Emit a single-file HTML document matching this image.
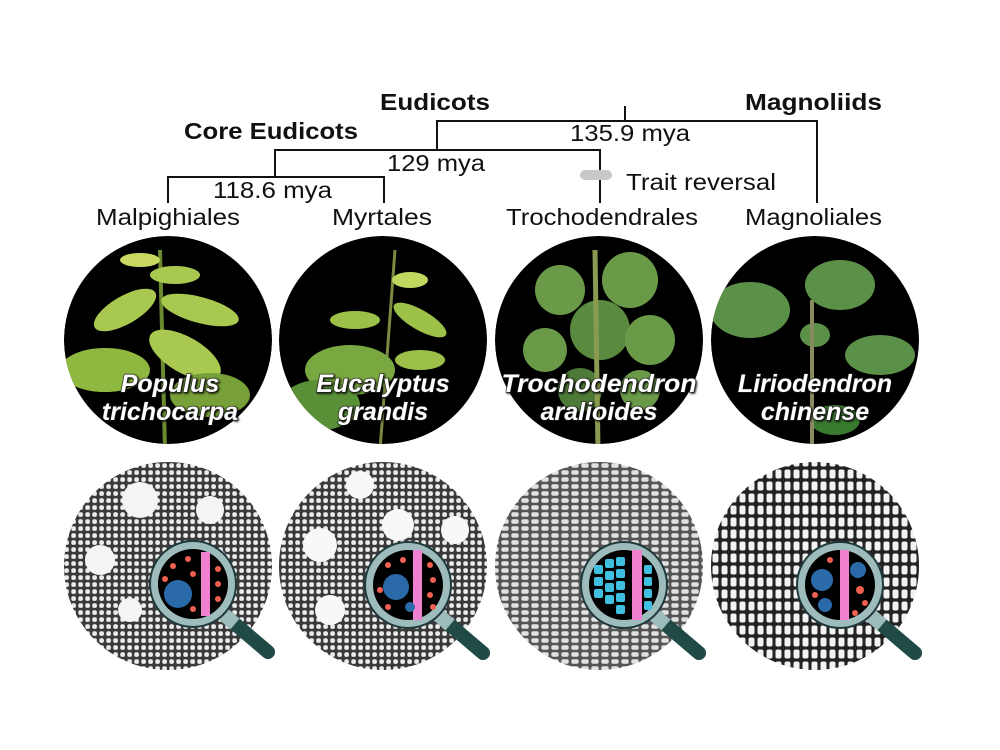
<!DOCTYPE html>
<html><head><meta charset="utf-8"><style>
html,body{margin:0;padding:0;background:#fff}
svg{display:block}
text{font-family:"Liberation Sans",Arial,sans-serif}
</style></head><body>
<svg width="1000" height="750" viewBox="0 0 1000 750" xmlns="http://www.w3.org/2000/svg">
<defs>
<pattern id="cells" width="7" height="7" patternUnits="userSpaceOnUse">
<rect width="7" height="7" fill="#3a3a3a"/><rect x="1.3" y="1.3" width="4.6" height="4.6" rx="1.8" fill="#ececec"/></pattern>
<pattern id="cells2" width="10" height="7" patternUnits="userSpaceOnUse">
<rect width="10" height="7" fill="#555"/><rect x="1.3" y="1.3" width="7.4" height="4.4" rx="1.8" fill="#e2e2e2"/></pattern>
<pattern id="cells3" width="9" height="12" patternUnits="userSpaceOnUse">
<rect width="9" height="12" fill="#222"/><rect x="1.5" y="1.5" width="6" height="9" rx="2" fill="#f2f2f2"/></pattern>
<clipPath id="c1"><circle cx="168" cy="340" r="104"/></clipPath>
<clipPath id="c2"><circle cx="383" cy="340" r="104"/></clipPath>
<clipPath id="c3"><circle cx="599" cy="340" r="104"/></clipPath>
<clipPath id="c4"><circle cx="815" cy="340" r="104"/></clipPath>
<g id="mag">
<line x1="28" y1="28" x2="75" y2="68" stroke="#1f4a45" stroke-width="14" stroke-linecap="round"/>
<line x1="28" y1="28" x2="42" y2="40" stroke="#9fbcbc" stroke-width="14"/>
<circle r="43" fill="#9fbcbc" stroke="#1f3a3a" stroke-width="2"/>
<circle r="35" fill="#000"/>
</g>
</defs>

<!-- tree -->
<g stroke="#111" stroke-width="2" fill="none">
<path d="M625 106V121M437 150V121H817V203M275 177V150H600V203M168 203V177H384V203"/>
</g>
<rect x="580" y="170" width="32" height="10" rx="5" fill="#c8c8c8"/>
<g font-size="23" fill="#111" lengthAdjust="spacingAndGlyphs">
<text x="380" y="110" textLength="110" lengthAdjust="spacingAndGlyphs" font-weight="bold">Eudicots</text>
<text x="745" y="110" textLength="137" lengthAdjust="spacingAndGlyphs" font-weight="bold">Magnoliids</text>
<text x="184" y="139" textLength="174" lengthAdjust="spacingAndGlyphs" font-weight="bold">Core Eudicots</text>
<text x="570" y="141" textLength="120" lengthAdjust="spacingAndGlyphs">135.9 mya</text>
<text x="387" y="171" textLength="98" lengthAdjust="spacingAndGlyphs">129 mya</text>
<text x="213" y="198" textLength="119" lengthAdjust="spacingAndGlyphs">118.6 mya</text>
<text x="626" y="190" textLength="150" lengthAdjust="spacingAndGlyphs">Trait reversal</text>
<text x="96" y="225" textLength="144" lengthAdjust="spacingAndGlyphs">Malpighiales</text>
<text x="332" y="225" textLength="100" lengthAdjust="spacingAndGlyphs">Myrtales</text>
<text x="506" y="225" textLength="192" lengthAdjust="spacingAndGlyphs">Trochodendrales</text>
<text x="745" y="225" textLength="137" lengthAdjust="spacingAndGlyphs">Magnoliales</text>
</g>

<!-- plant circles -->
<g clip-path="url(#c1)"><circle cx="168" cy="340" r="104" fill="#000"/>
<line x1="160" y1="250" x2="165" y2="450" stroke="#6a8a30" stroke-width="4"/>
<g fill="#a8c850"><ellipse cx="125" cy="310" rx="35" ry="14" transform="rotate(-30 125 310)"/><ellipse cx="200" cy="310" rx="40" ry="13" transform="rotate(15 200 310)"/><ellipse cx="185" cy="355" rx="40" ry="18" transform="rotate(30 185 355)"/><ellipse cx="105" cy="370" rx="45" ry="22" fill="#8fb840"/><ellipse cx="175" cy="275" rx="25" ry="9"/><ellipse cx="140" cy="260" rx="20" ry="7" fill="#c8d860"/><ellipse cx="210" cy="395" rx="40" ry="22" fill="#78a038"/></g></g>
<g clip-path="url(#c2)"><circle cx="383" cy="340" r="104" fill="#000"/>
<line x1="395" y1="250" x2="380" y2="450" stroke="#7a8a40" stroke-width="3"/>
<g fill="#9cc048"><ellipse cx="420" cy="320" rx="30" ry="10" transform="rotate(30 420 320)"/><ellipse cx="355" cy="320" rx="25" ry="9"/><ellipse cx="350" cy="370" rx="45" ry="25" fill="#7aa840"/><ellipse cx="410" cy="280" rx="18" ry="8" fill="#c0d860"/><ellipse cx="420" cy="360" rx="25" ry="10"/><ellipse cx="320" cy="405" rx="40" ry="25" fill="#5a9038"/></g></g>
<g clip-path="url(#c3)"><circle cx="599" cy="340" r="104" fill="#000"/>
<g fill="#6a9a48"><circle cx="560" cy="290" r="25"/><circle cx="630" cy="280" r="28"/><circle cx="600" cy="330" r="30" fill="#5a8a40"/><circle cx="650" cy="340" r="25"/><circle cx="545" cy="350" r="22"/><circle cx="580" cy="390" r="22" fill="#4e7a38"/><circle cx="640" cy="390" r="20"/></g>
<line x1="595" y1="250" x2="598" y2="450" stroke="#8a9a50" stroke-width="5"/></g>
<g clip-path="url(#c4)"><circle cx="815" cy="340" r="104" fill="#000"/>
<g fill="#5a9048"><ellipse cx="750" cy="310" rx="40" ry="28"/><ellipse cx="840" cy="285" rx="35" ry="25"/><ellipse cx="880" cy="355" rx="35" ry="20"/><ellipse cx="815" cy="335" rx="15" ry="12"/><ellipse cx="835" cy="420" rx="25" ry="15" fill="#3a7a30"/></g>
<line x1="812" y1="300" x2="812" y2="450" stroke="#8a8a60" stroke-width="4"/></g>

<g font-size="25" font-weight="bold" font-style="italic" fill="#fff" text-anchor="middle" stroke="#222" stroke-width="1.2" paint-order="stroke" style="filter:drop-shadow(1px 1px 1px #000)">
<text x="170" y="392">Populus</text><text x="170" y="420">trichocarpa</text>
<text x="383" y="392">Eucalyptus</text><text x="383" y="420">grandis</text>
<text x="599" y="392" textLength="195" lengthAdjust="spacingAndGlyphs">Trochodendron</text><text x="599" y="420">aralioides</text>
<text x="815" y="392">Liriodendron</text><text x="815" y="420">chinense</text>
</g>

<!-- wood circles -->
<circle cx="168" cy="566" r="104" fill="url(#cells)"/>
<g fill="#f4f4f4"><circle cx="140" cy="500" r="18"/><circle cx="210" cy="510" r="14"/><circle cx="100" cy="560" r="15"/><circle cx="130" cy="610" r="12"/><circle cx="215" cy="560" r="12"/></g>
<circle cx="383" cy="566" r="104" fill="url(#cells)"/>
<g fill="#f8f8f8"><circle cx="320" cy="545" r="17"/><circle cx="330" cy="610" r="15"/><circle cx="398" cy="525" r="16"/><circle cx="455" cy="530" r="14"/><circle cx="360" cy="485" r="14"/></g>
<circle cx="599" cy="566" r="104" fill="url(#cells2)"/>
<circle cx="815" cy="566" r="104" fill="url(#cells3)"/>

<g transform="translate(193,584)"><use href="#mag"/>
<rect x="8" y="-32" width="9" height="64" fill="#f080d0"/><circle cx="-15" cy="10" r="14" fill="#2a6aa8"/>
<g fill="#f06050"><circle cx="-20" cy="-18" r="3"/><circle cx="-5" cy="-25" r="3"/><circle cx="0" cy="-10" r="3"/><circle cx="25" cy="-15" r="3"/><circle cx="25" cy="0" r="3"/><circle cx="25" cy="15" r="3"/><circle cx="0" cy="25" r="3"/><circle cx="-28" cy="-5" r="3"/></g></g>
<g transform="translate(408,585)"><use href="#mag"/>
<rect x="5" y="-35" width="9" height="70" fill="#f080d0"/><circle cx="-12" cy="2" r="13" fill="#2a6aa8"/><circle cx="2" cy="22" r="5" fill="#2a6aa8"/>
<g fill="#f06050"><circle cx="-20" cy="-20" r="3"/><circle cx="-5" cy="-25" r="3"/><circle cx="22" cy="-20" r="3"/><circle cx="25" cy="-5" r="3"/><circle cx="22" cy="10" r="3"/><circle cx="25" cy="22" r="3"/><circle cx="-20" cy="22" r="3"/><circle cx="-28" cy="5" r="3"/></g></g>
<g transform="translate(624,585)"><use href="#mag"/>
<rect x="8" y="-35" width="10" height="70" fill="#f080d0"/>
<g fill="#40c0e0"><rect x="-30" y="-20" width="9" height="9" rx="2"/><rect x="-19" y="-26" width="9" height="9" rx="2"/><rect x="-8" y="-28" width="9" height="9" rx="2"/><rect x="-30" y="-8" width="9" height="9" rx="2"/><rect x="-19" y="-14" width="9" height="9" rx="2"/><rect x="-8" y="-16" width="9" height="9" rx="2"/><rect x="-30" y="4" width="9" height="9" rx="2"/><rect x="-19" y="-2" width="9" height="9" rx="2"/><rect x="-8" y="-4" width="9" height="9" rx="2"/><rect x="-19" y="10" width="9" height="9" rx="2"/><rect x="-8" y="8" width="9" height="9" rx="2"/><rect x="-8" y="20" width="9" height="9" rx="2"/><rect x="20" y="-20" width="8" height="9" rx="2"/><rect x="20" y="-8" width="8" height="9" rx="2"/><rect x="20" y="4" width="8" height="9" rx="2"/><rect x="20" y="16" width="8" height="9" rx="2"/></g></g>
<g transform="translate(840,585)"><use href="#mag"/>
<rect x="0" y="-35" width="9" height="70" fill="#f080d0"/><circle cx="-18" cy="-5" r="11" fill="#2a6aa8"/><circle cx="18" cy="-15" r="8" fill="#2a6aa8"/><circle cx="-15" cy="20" r="7" fill="#2a6aa8"/>
<g fill="#f06050"><circle cx="-10" cy="-25" r="3"/><circle cx="20" cy="5" r="4"/><circle cx="25" cy="18" r="3"/><circle cx="15" cy="28" r="3"/><circle cx="-25" cy="10" r="3"/></g></g>
</svg>
</body></html>
